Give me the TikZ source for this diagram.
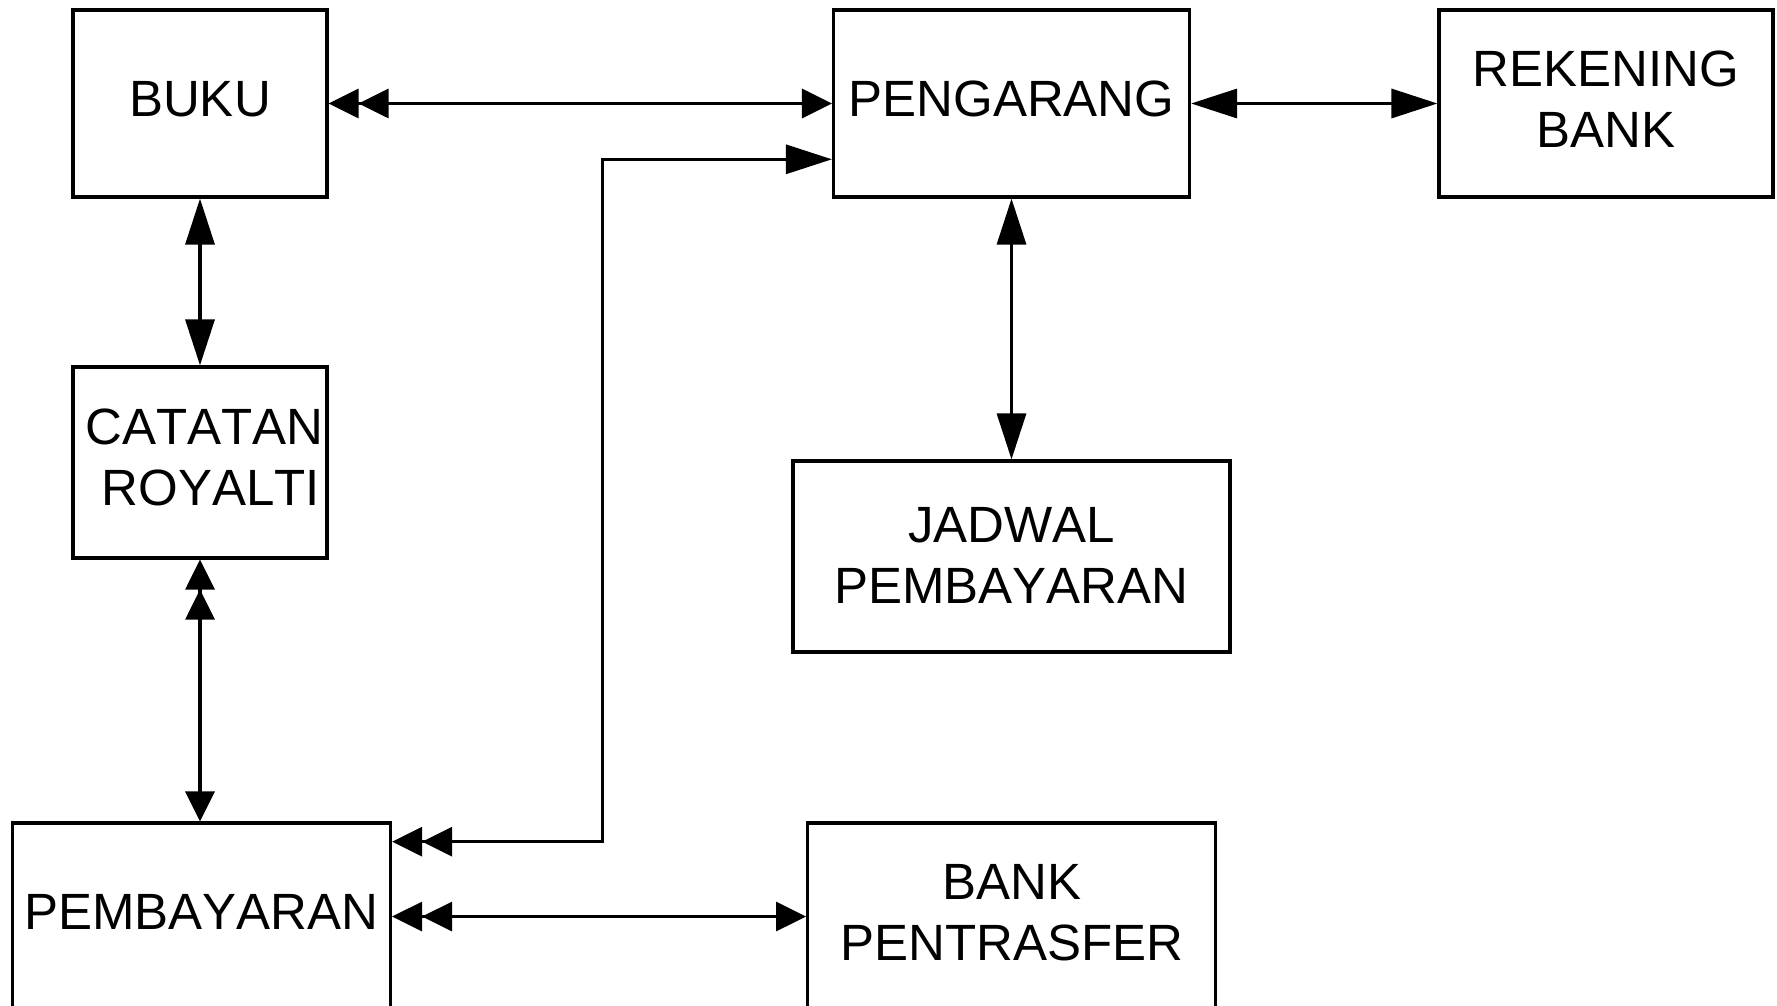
\documentclass[tikz,border=0pt]{standalone}
\usepackage{fontspec}
\setmainfont{Liberation Sans}[Kerning=Off]
\usetikzlibrary{arrows.meta}
\begin{document}
\begin{tikzpicture}[x=1pt,y=-1pt,
  lw/.style={line width=3.2pt},
  box/.style={draw, lw, inner sep=0pt, align=center,
    font=\fontsize{51pt}{61pt}\selectfont, text depth=9pt},
  lbl/.style={inner sep=0pt, font=\fontsize{51pt}{61pt}\selectfont},
  conn/.style={lw},
  dshort/.style={conn, arrows={Triangle[length=30pt,width=29pt,sep=0pt]Triangle[length=30pt,width=29pt,sep=0pt]-Triangle[length=30pt,width=29pt]}},
  dlong/.style={conn, arrows={Triangle[length=30pt,width=29pt,sep=0pt]Triangle[length=30pt,width=29pt,sep=0pt]-Triangle[length=46pt,width=29pt]}},
  bothlong/.style={conn, arrows={Triangle[length=46pt,width=29pt]-Triangle[length=46pt,width=29pt]}}
]
\useasboundingbox (0,0) rectangle (1777,1006);

% boxes
\node[box, minimum width=254pt, minimum height=187pt] (buku) at (200,103.5) {BUKU};
\node[box, minimum width=356pt, minimum height=187pt] (peng) at (1011.5,103.5) {PENGARANG};
\node[box, minimum width=334pt, minimum height=187pt] (rek) at (1606,103.5) {REKENING\\BANK};
\node[box, minimum width=254pt, minimum height=191pt] (cat) at (200,462.5) {};
\node[lbl, align=right, anchor=east] (catT) at (324,457.5) {CATATAN\\ROYALTI\hspace*{4pt}};
\node[box, text depth=3pt, minimum width=437pt, minimum height=191pt] (jad) at (1011.5,556.5) {JADWAL\\PEMBAYARAN};
\node[box, minimum width=378pt, minimum height=187pt] (pemb) at (201.5,916.5) {PEMBAYARAN};
\node[box, minimum width=408pt, minimum height=187pt] (bankp) at (1011.7,916.5) {BANK\\PENTRASFER};

% route corners
\coordinate (r1) at (602.7,841.7);
\coordinate (r2) at (602.7,159.3);

% connectors
\draw[dshort] (buku.east) -- (peng.west);
\draw[bothlong] (peng.east) -- (rek.west);
\draw[dlong] (pemb.east |- r1) -- (r1) -- (r2) -- (peng.west |- r2);
\draw[bothlong] (buku.south) -- (cat.north);
\draw[dshort] (cat.south) -- (cat.south |- pemb.north);
\draw[bothlong] (peng.south) -- (jad.north);
\draw[dshort] (pemb.east) -- (bankp.west);
\end{tikzpicture}
\end{document}
